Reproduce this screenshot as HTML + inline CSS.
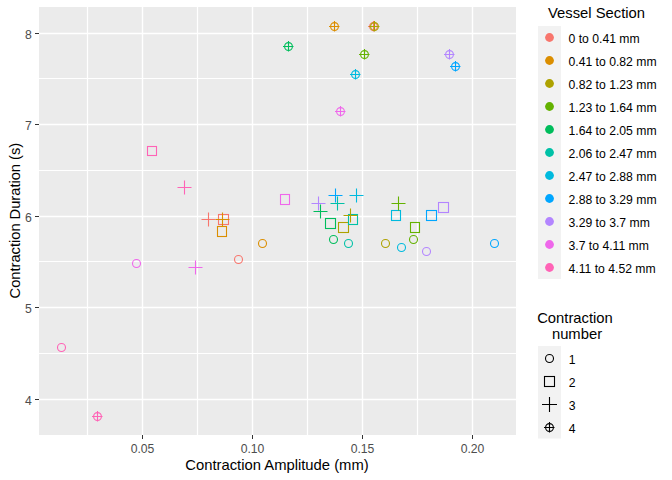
<!DOCTYPE html>
<html><head><meta charset="utf-8"><style>
html,body{margin:0;padding:0;background:#fff;}
svg{display:block;}
text{font-family:"Liberation Sans",sans-serif;}
</style></head><body>
<svg width="672" height="480" viewBox="0 0 672 480">
<rect x="0" y="0" width="672" height="480" fill="#FFFFFF"/>
<rect x="39" y="7" width="477" height="428" fill="#EBEBEB"/>
<path d="M87.5 7V435M197.5 7V435M307.5 7V435M417.5 7V435M39 78.5H516M39 170.5H516M39 261.5H516M39 353.5H516" stroke="#FFFFFF" stroke-width="1.2" fill="none"/>
<path d="M142.5 7V435M252.5 7V435M362.5 7V435M472.5 7V435M39 33.5H516M39 124.5H516M39 216.5H516M39 307.5H516M39 399.5H516" stroke="#FFFFFF" stroke-width="1.4" fill="none"/>
<circle cx="238.5" cy="259.5" r="4.0" fill="none" stroke="#F8766D" stroke-width="1.1"/>
<circle cx="262.5" cy="243.5" r="4.0" fill="none" stroke="#DB8E00" stroke-width="1.1"/>
<circle cx="385.5" cy="243.5" r="4.0" fill="none" stroke="#AEA200" stroke-width="1.1"/>
<circle cx="413.5" cy="239.5" r="4.0" fill="none" stroke="#64B200" stroke-width="1.1"/>
<circle cx="333.5" cy="239.5" r="4.0" fill="none" stroke="#00BD5C" stroke-width="1.1"/>
<circle cx="348.5" cy="243.5" r="4.0" fill="none" stroke="#00C1A7" stroke-width="1.1"/>
<circle cx="401.5" cy="247.5" r="4.0" fill="none" stroke="#00BADE" stroke-width="1.1"/>
<circle cx="494.5" cy="243.5" r="4.0" fill="none" stroke="#00A6FF" stroke-width="1.1"/>
<circle cx="426.5" cy="251.5" r="4.0" fill="none" stroke="#B385FF" stroke-width="1.1"/>
<circle cx="136.5" cy="263.5" r="4.0" fill="none" stroke="#EF67EB" stroke-width="1.1"/>
<circle cx="61.5" cy="347.5" r="4.0" fill="none" stroke="#FF63B6" stroke-width="1.1"/>
<rect x="218.5" y="214.5" width="10" height="10" fill="none" stroke="#F8766D" stroke-width="1.1"/>
<rect x="217.5" y="226.5" width="9" height="10" fill="none" stroke="#DB8E00" stroke-width="1.1"/>
<rect x="338.5" y="222.5" width="10" height="10" fill="none" stroke="#AEA200" stroke-width="1.1"/>
<rect x="410.5" y="222.5" width="9" height="10" fill="none" stroke="#64B200" stroke-width="1.1"/>
<rect x="325.5" y="218.5" width="10" height="10" fill="none" stroke="#00BD5C" stroke-width="1.1"/>
<rect x="348.5" y="214.5" width="9" height="10" fill="none" stroke="#00C1A7" stroke-width="1.1"/>
<rect x="391.5" y="210.5" width="9" height="10" fill="none" stroke="#00BADE" stroke-width="1.1"/>
<rect x="426.5" y="210.5" width="10" height="10" fill="none" stroke="#00A6FF" stroke-width="1.1"/>
<rect x="438.5" y="202.5" width="10" height="10" fill="none" stroke="#B385FF" stroke-width="1.1"/>
<rect x="280.5" y="194.5" width="9" height="10" fill="none" stroke="#EF67EB" stroke-width="1.1"/>
<rect x="147.5" y="146.5" width="9" height="9" fill="none" stroke="#FF63B6" stroke-width="1.1"/>
<path d="M201.5 219.5H215.5M208.5 212.5V226.5" fill="none" stroke="#F8766D" stroke-width="1.1"/>
<path d="M215.5 219.5H229.5M222.5 212.5V226.5" fill="none" stroke="#DB8E00" stroke-width="1.1"/>
<path d="M343.5 215.5H357.5M350.5 208.5V222.5" fill="none" stroke="#AEA200" stroke-width="1.1"/>
<path d="M391.5 203.5H405.5M398.5 196.5V210.5" fill="none" stroke="#64B200" stroke-width="1.1"/>
<path d="M313.5 211.5H327.5M320.5 204.5V218.5" fill="none" stroke="#00BD5C" stroke-width="1.1"/>
<path d="M330.5 203.5H344.5M337.5 196.5V210.5" fill="none" stroke="#00C1A7" stroke-width="1.1"/>
<path d="M349.5 195.5H363.5M356.5 188.5V202.5" fill="none" stroke="#00BADE" stroke-width="1.1"/>
<path d="M328.5 195.5H342.5M335.5 188.5V202.5" fill="none" stroke="#00A6FF" stroke-width="1.1"/>
<path d="M311.5 203.5H325.5M318.5 196.5V210.5" fill="none" stroke="#B385FF" stroke-width="1.1"/>
<path d="M188.5 267.5H202.5M195.5 260.5V274.5" fill="none" stroke="#EF67EB" stroke-width="1.1"/>
<path d="M177.5 187.5H191.5M184.5 180.5V194.5" fill="none" stroke="#FF63B6" stroke-width="1.1"/>
<circle cx="373.5" cy="26.5" r="3.9" fill="none" stroke="#F8766D" stroke-width="1.1"/><path d="M368.0 26.5H378.5M373.5 21.0V31.5" fill="none" stroke="#F8766D" stroke-width="1.1"/>
<circle cx="334.5" cy="26.5" r="3.9" fill="none" stroke="#DB8E00" stroke-width="1.1"/><path d="M329.0 26.5H339.5M334.5 21.0V31.5" fill="none" stroke="#DB8E00" stroke-width="1.1"/>
<circle cx="374.5" cy="26.5" r="3.9" fill="none" stroke="#AEA200" stroke-width="1.1"/><path d="M369.0 26.5H379.5M374.5 21.0V31.5" fill="none" stroke="#AEA200" stroke-width="1.1"/>
<circle cx="364.5" cy="54.5" r="3.9" fill="none" stroke="#64B200" stroke-width="1.1"/><path d="M359.0 54.5H369.5M364.5 49.0V59.5" fill="none" stroke="#64B200" stroke-width="1.1"/>
<circle cx="288.5" cy="46.5" r="3.9" fill="none" stroke="#00BD5C" stroke-width="1.1"/><path d="M283.0 46.5H293.5M288.5 41.0V51.5" fill="none" stroke="#00BD5C" stroke-width="1.1"/>
<circle cx="355.5" cy="74.5" r="3.9" fill="none" stroke="#00BADE" stroke-width="1.1"/><path d="M350.0 74.5H360.5M355.5 69.0V79.5" fill="none" stroke="#00BADE" stroke-width="1.1"/>
<circle cx="455.5" cy="66.5" r="3.9" fill="none" stroke="#00A6FF" stroke-width="1.1"/><path d="M450.0 66.5H460.5M455.5 61.0V71.5" fill="none" stroke="#00A6FF" stroke-width="1.1"/>
<circle cx="449.5" cy="54.5" r="3.9" fill="none" stroke="#B385FF" stroke-width="1.1"/><path d="M444.0 54.5H454.5M449.5 49.0V59.5" fill="none" stroke="#B385FF" stroke-width="1.1"/>
<circle cx="340.5" cy="111.5" r="3.9" fill="none" stroke="#EF67EB" stroke-width="1.1"/><path d="M335.0 111.5H345.5M340.5 106.0V116.5" fill="none" stroke="#EF67EB" stroke-width="1.1"/>
<circle cx="97.5" cy="416.5" r="3.9" fill="none" stroke="#FF63B6" stroke-width="1.1"/><path d="M92.0 416.5H102.5M97.5 411.0V421.5" fill="none" stroke="#FF63B6" stroke-width="1.1"/>
<path d="M35 33.5H39M35 124.5H39M35 216.5H39M35 307.5H39M35 399.5H39M142.5 435V439M252.5 435V439M362.5 435V439M472.5 435V439" stroke="#333333" stroke-width="1.0" fill="none"/>
<text x="31.8" y="39.0" text-anchor="end" font-size="12.2" fill="#4D4D4D" font-family="Liberation Sans, sans-serif">8</text>
<text x="31.8" y="130.0" text-anchor="end" font-size="12.2" fill="#4D4D4D" font-family="Liberation Sans, sans-serif">7</text>
<text x="31.8" y="222.0" text-anchor="end" font-size="12.2" fill="#4D4D4D" font-family="Liberation Sans, sans-serif">6</text>
<text x="31.8" y="313.0" text-anchor="end" font-size="12.2" fill="#4D4D4D" font-family="Liberation Sans, sans-serif">5</text>
<text x="31.8" y="405.0" text-anchor="end" font-size="12.2" fill="#4D4D4D" font-family="Liberation Sans, sans-serif">4</text>
<text x="142.5" y="453" text-anchor="middle" font-size="12.2" fill="#4D4D4D" font-family="Liberation Sans, sans-serif">0.05</text>
<text x="252.5" y="453" text-anchor="middle" font-size="12.2" fill="#4D4D4D" font-family="Liberation Sans, sans-serif">0.10</text>
<text x="362.5" y="453" text-anchor="middle" font-size="12.2" fill="#4D4D4D" font-family="Liberation Sans, sans-serif">0.15</text>
<text x="472.5" y="453" text-anchor="middle" font-size="12.2" fill="#4D4D4D" font-family="Liberation Sans, sans-serif">0.20</text>
<text x="277" y="470" text-anchor="middle" font-size="14.8" fill="#000000" font-family="Liberation Sans, sans-serif">Contraction Amplitude (mm)</text>
<text transform="translate(19.5,220.6) rotate(-90)" x="0" y="0" text-anchor="middle" font-size="14.67" fill="#000000" font-family="Liberation Sans, sans-serif">Contraction Duration (s)</text>
<text x="596.5" y="18" text-anchor="middle" font-size="14.8" fill="#000000" font-family="Liberation Sans, sans-serif">Vessel Section</text>
<rect x="538" y="26" width="23" height="253" fill="#F2F2F2"/>
<circle cx="549.5" cy="37.5" r="4.4" fill="#F8766D"/>
<text x="568.5" y="42.8" font-size="12.2" fill="#000000" font-family="Liberation Sans, sans-serif">0 to 0.41 mm</text>
<circle cx="549.5" cy="60.5" r="4.4" fill="#DB8E00"/>
<text x="568.5" y="65.8" font-size="12.2" fill="#000000" font-family="Liberation Sans, sans-serif">0.41 to 0.82 mm</text>
<circle cx="549.5" cy="83.5" r="4.4" fill="#AEA200"/>
<text x="568.5" y="88.8" font-size="12.2" fill="#000000" font-family="Liberation Sans, sans-serif">0.82 to 1.23 mm</text>
<circle cx="549.5" cy="106.5" r="4.4" fill="#64B200"/>
<text x="568.5" y="111.8" font-size="12.2" fill="#000000" font-family="Liberation Sans, sans-serif">1.23 to 1.64 mm</text>
<circle cx="549.5" cy="129.5" r="4.4" fill="#00BD5C"/>
<text x="568.5" y="134.8" font-size="12.2" fill="#000000" font-family="Liberation Sans, sans-serif">1.64 to 2.05 mm</text>
<circle cx="549.5" cy="152.5" r="4.4" fill="#00C1A7"/>
<text x="568.5" y="157.8" font-size="12.2" fill="#000000" font-family="Liberation Sans, sans-serif">2.06 to 2.47 mm</text>
<circle cx="549.5" cy="175.5" r="4.4" fill="#00BADE"/>
<text x="568.5" y="180.8" font-size="12.2" fill="#000000" font-family="Liberation Sans, sans-serif">2.47 to 2.88 mm</text>
<circle cx="549.5" cy="198.5" r="4.4" fill="#00A6FF"/>
<text x="568.5" y="203.8" font-size="12.2" fill="#000000" font-family="Liberation Sans, sans-serif">2.88 to 3.29 mm</text>
<circle cx="549.5" cy="221.5" r="4.4" fill="#B385FF"/>
<text x="568.5" y="226.8" font-size="12.2" fill="#000000" font-family="Liberation Sans, sans-serif">3.29 to 3.7 mm</text>
<circle cx="549.5" cy="244.5" r="4.4" fill="#EF67EB"/>
<text x="568.5" y="249.8" font-size="12.2" fill="#000000" font-family="Liberation Sans, sans-serif">3.7 to 4.11 mm</text>
<circle cx="549.5" cy="267.5" r="4.4" fill="#FF63B6"/>
<text x="568.5" y="272.8" font-size="12.2" fill="#000000" font-family="Liberation Sans, sans-serif">4.11 to 4.52 mm</text>
<text x="575" y="323" text-anchor="middle" font-size="14.8" fill="#000000" font-family="Liberation Sans, sans-serif">Contraction</text>
<text x="577" y="338.5" text-anchor="middle" font-size="14.8" fill="#000000" font-family="Liberation Sans, sans-serif">number</text>
<rect x="538" y="346" width="23" height="92.5" fill="#F2F2F2"/>
<circle cx="549.5" cy="358.5" r="4.0" fill="none" stroke="#000000" stroke-width="1.1"/>
<text x="568.8" y="363.8" font-size="12.2" fill="#000000" font-family="Liberation Sans, sans-serif">1</text>
<rect x="544.5" y="376.5" width="10" height="10" fill="none" stroke="#000000" stroke-width="1.1"/>
<text x="568.8" y="386.8" font-size="12.2" fill="#000000" font-family="Liberation Sans, sans-serif">2</text>
<path d="M542 404.5H557M549.5 397.0V412.0" fill="none" stroke="#000000" stroke-width="1.1"/>
<text x="568.8" y="409.8" font-size="12.2" fill="#000000" font-family="Liberation Sans, sans-serif">3</text>
<circle cx="549.5" cy="427.5" r="3.9" fill="none" stroke="#000000" stroke-width="1.1"/><path d="M544.0 427.5H554.5M549.5 422.0V432.5" fill="none" stroke="#000000" stroke-width="1.1"/>
<text x="568.8" y="432.8" font-size="12.2" fill="#000000" font-family="Liberation Sans, sans-serif">4</text>
</svg>
</body></html>
